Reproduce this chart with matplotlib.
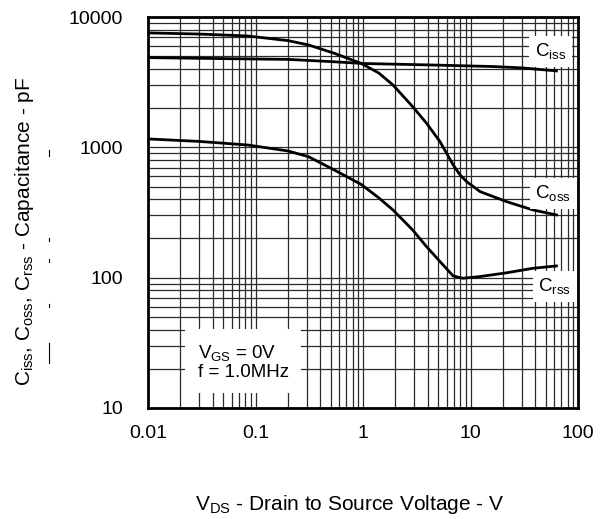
import matplotlib
matplotlib.use("Agg")
import matplotlib.pyplot as plt
from matplotlib.lines import Line2D
from matplotlib.ticker import LogLocator, NullFormatter, FixedLocator, FixedFormatter

plt.rcParams['font.family'] = ['Liberation Sans', 'DejaVu Sans']
plt.rcParams['mathtext.fontset'] = 'custom'
plt.rcParams['mathtext.rm'] = 'Liberation Sans'
plt.rcParams['mathtext.it'] = 'Liberation Sans'

# capacitance curves (V, pF)
ciss_v = [0.01, 0.03, 0.1, 0.2, 0.5, 1, 4, 16, 30, 63]
ciss_c = [4880, 4820, 4760, 4730, 4550, 4400, 4290, 4170, 4070, 3860]

coss_v = [0.01, 0.03, 0.085, 0.2, 0.31, 0.54, 0.96, 1.4, 1.9, 2.9, 3.9, 5.2, 6.9, 8.0, 9.2, 12.3, 21.7, 38, 63]
coss_c = [7550, 7400, 7150, 6590, 6110, 5270, 4410, 3720, 3010, 2050, 1530, 1107, 733, 614, 546, 457, 383, 331, 303]

crss_v = [0.01, 0.03, 0.085, 0.2, 0.31, 0.54, 0.96, 1.4, 1.9, 2.9, 3.9, 5.2, 6.9, 8.5, 12.3, 21.7, 38, 63]
crss_c = [1160, 1110, 1042, 938, 849, 671, 520, 410, 331, 232, 173, 133, 103, 99, 102, 109, 118, 123]

x_ticks = [0.01, 0.1, 1, 10, 100]
x_labels = ['0.01', '0.1', '1', '10', '100']
y_ticks = [10, 100, 1000, 10000]
y_labels = ['10', '100', '1000', '10000']

fig = plt.figure(figsize=(6.13, 5.19), dpi=100)
fig.set_facecolor('white')
ax = fig.add_axes([148/613, 1-408/519, 430/613, 391/519])

ax.set_xscale('log')
ax.set_yscale('log')
ax.set_xlim(0.01, 100)
ax.set_ylim(10, 10000)

ax.xaxis.set_major_locator(FixedLocator(x_ticks))
ax.xaxis.set_major_formatter(FixedFormatter(x_labels))
ax.yaxis.set_major_locator(FixedLocator(y_ticks))
ax.yaxis.set_major_formatter(FixedFormatter(y_labels))
ax.xaxis.set_minor_locator(LogLocator(base=10, subs=range(2, 10)))
ax.yaxis.set_minor_locator(LogLocator(base=10, subs=range(2, 10)))
ax.xaxis.set_minor_formatter(NullFormatter())
ax.yaxis.set_minor_formatter(NullFormatter())

ax.grid(which='both', color='#2a2a2a', linewidth=0.9)
ax.tick_params(which='both', length=0, labelsize=14)
ax.tick_params(axis='x', pad=12)
ax.tick_params(axis='y', pad=18)
for s in ax.spines.values():
    s.set_linewidth(2)

for v, c in [(ciss_v, ciss_c), (coss_v, coss_c), (crss_v, crss_c)]:
    ax.plot(v, c, color='black', linewidth=2, zorder=3)

box = dict(facecolor='white', edgecolor='none', pad=4)
ax.text(0.936, 0.912, r'C$_{\mathrm{iss}}$', transform=ax.transAxes, fontsize=13.5,
        ha='center', va='center', bbox=box, zorder=4)
ax.text(0.942, 0.549, r'C$_{\mathrm{oss}}$', transform=ax.transAxes, fontsize=13.5,
        ha='center', va='center', bbox=box, zorder=4)
ax.text(0.946, 0.311, r'C$_{\mathrm{rss}}$', transform=ax.transAxes, fontsize=13.5,
        ha='center', va='center', bbox=box, zorder=4)
ax.text(0.116, 0.118, 'V$_{\\mathrm{GS}}$ = 0V\nf = 1.0MHz', transform=ax.transAxes,
        fontsize=13.5, ha='left', va='center', linespacing=1.05, zorder=4,
        bbox=dict(facecolor='white', edgecolor='none', pad=9))

ax.set_xlabel(r'V$_{\mathrm{DS}}$ - Drain to Source Voltage - V', fontsize=15)
ax.xaxis.set_label_coords(0.47, -0.217)
ax.set_ylabel(r'C$_{\mathrm{iss}}$, C$_{\mathrm{oss}}$, C$_{\mathrm{rss}}$ - Capacitance - pF',
              fontsize=15)
ax.yaxis.set_label_coords(-0.26, 0.453)

# stray marks beside the y label in the scanned original
for y0, y1 in [(150, 156), (238, 241), (259, 262), (304, 307), (343, 363)]:
    fig.add_artist(Line2D([49/613, 49/613], [1-y0/519, 1-y1/519], color='black', linewidth=0.8))

fig.savefig('out.png', dpi=100, facecolor='white')
